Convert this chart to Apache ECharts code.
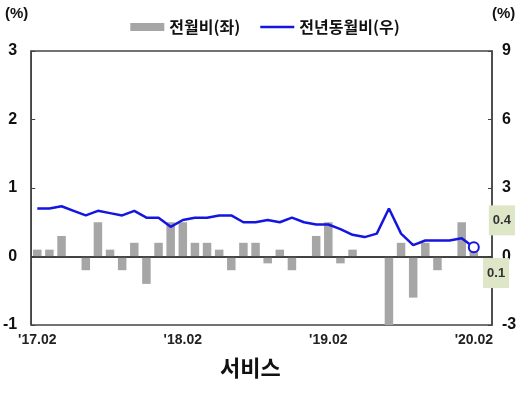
<!DOCTYPE html>
<html><head><meta charset="utf-8">
<script src="https://cdn.jsdelivr.net/npm/echarts@6/dist/echarts.min.js"></script>
<style>html,body{margin:0;padding:0;background:#fff}#c{width:530px;height:396px}</style>
</head><body><div id="c"></div>
<script>
var categories = ["'17.02","'17.03","'17.04","'17.05","'17.06","'17.07","'17.08","'17.09","'17.10","'17.11","'17.12",
"'18.01","'18.02","'18.03","'18.04","'18.05","'18.06","'18.07","'18.08","'18.09","'18.10","'18.11","'18.12",
"'19.01","'19.02","'19.03","'19.04","'19.05","'19.06","'19.07","'19.08","'19.09","'19.10","'19.11","'19.12",
"'20.01","'20.02","'20.03"];
var shownLabels = ["'17.02","'18.02","'19.02","'20.02"];
var momValues = [0.1,0.1,0.3,0.0,-0.2,0.5,0.1,-0.2,0.2,-0.4,0.2,
0.5,0.5,0.2,0.2,0.1,-0.2,0.2,0.2,-0.1,0.1,-0.2,0.0,
0.3,0.5,-0.1,0.1,0.0,0.0,-1.0,0.2,-0.6,0.2,-0.2,0.0,
0.5,0.1];
var yoyValues = [2.1,2.1,2.2,2.0,1.8,2.0,1.9,1.8,2.0,1.7,1.7,
1.3,1.6,1.7,1.7,1.8,1.8,1.5,1.5,1.6,1.5,1.7,1.5,
1.4,1.4,1.2,0.95,0.85,1.0,2.1,1.0,0.5,0.7,0.7,0.7,
0.8,0.4];
var leftTicks = [-1,0,1,2,3];
var rightTicks = [-3,0,3,6,9];

var FONT = '"Liberation Sans", Arial, "Noto Sans CJK KR", sans-serif';
var last = momValues.length - 1;
var boxLabel = {backgroundColor:'#dde6c6',padding:[9,4,8,4],color:'#333',fontFamily:FONT,fontWeight:'bold',fontSize:13,
  formatter:function(p){return p.value.toFixed(1);}};
var barData = momValues.map(function(v,i){
  if(i===last) return {value:v,label:Object.assign({show:true,position:'right',distance:5,offset:[0,20]},boxLabel)};
  return v;
});
var lineData = yoyValues.map(function(v,i){
  if(i===yoyValues.length-1) return {value:v,symbol:'circle',symbolSize:10,
    itemStyle:{color:'#fff',borderColor:'#1515e0',borderWidth:2},
    label:Object.assign({show:true,position:'right',distance:9,offset:[0,-27]},boxLabel)};
  return v;
});

var chart = echarts.init(document.getElementById('c'));
chart.setOption({
  animation:false,
  textStyle:{fontFamily:FONT},
  grid:{left:30,right:38,top:51,bottom:71,show:true,borderColor:'#444',borderWidth:1.5,backgroundColor:'transparent'},
  legend:{top:14,left:'center',itemGap:20,itemWidth:34,itemHeight:8,symbolKeepAspect:true,
    textStyle:{fontFamily:'"Noto Sans CJK KR", sans-serif',fontWeight:'bold',fontSize:16,color:'#111'},
    data:[{name:'전월비(좌)',icon:'rect'},{name:'전년동월비(우)',icon:'path://M0,0H34V2.4H0Z',itemStyle:{color:'#1515e0'}}]},
  title:{text:'서비스',left:215,top:352,textStyle:{fontFamily:'"Noto Sans CJK KR", sans-serif',fontWeight:'bold',fontSize:22,color:'#111'}},
  graphic:[
    {type:'text',left:5,top:6,style:{text:'(%)',font:'bold 15px "Liberation Sans", Arial',fill:'#111'}},
    {type:'text',left:492,top:6,style:{text:'(%)',font:'bold 15px "Liberation Sans", Arial',fill:'#111'}}
  ],
  xAxis:{type:'category',data:categories,boundaryGap:true,
    axisLine:{show:true,lineStyle:{color:'#444',width:1.5}},
    axisTick:{show:false},
    axisLabel:{interval:0,margin:8,fontSize:14,fontWeight:'bold',color:'#222',fontFamily:FONT,
      formatter:function(v){return shownLabels.indexOf(v)>=0?v:'';}},
    splitLine:{show:false}},
  yAxis:[
    {type:'value',min:leftTicks[0],max:leftTicks[leftTicks.length-1],interval:1,position:'left',
      axisLine:{show:true,lineStyle:{color:'#444',width:1.5}},
      axisTick:{show:true,inside:true,length:4,lineStyle:{color:'#444'}},
      axisLabel:{fontSize:16,fontWeight:'bold',color:'#111',margin:14,fontFamily:FONT},
      splitLine:{show:false}},
    {type:'value',min:rightTicks[0],max:rightTicks[rightTicks.length-1],interval:3,position:'right',
      axisLine:{show:true,lineStyle:{color:'#444',width:1.5}},
      axisTick:{show:true,inside:true,length:4,lineStyle:{color:'#444'}},
      axisLabel:{fontSize:16,fontWeight:'bold',color:'#111',margin:10,fontFamily:FONT},
      splitLine:{show:false}}
  ],
  series:[
    {name:'전월비(좌)',type:'bar',yAxisIndex:0,data:barData,barWidth:8.5,
      itemStyle:{color:'#a6a6a6'},
      markLine:{silent:true,symbol:'none',label:{show:false},lineStyle:{color:'#333',width:1.5,type:'solid'},data:[{yAxis:0}]}},
    {name:'전년동월비(우)',type:'line',yAxisIndex:1,data:lineData,symbol:'none',
      lineStyle:{color:'#1515e0',width:2.5},itemStyle:{color:'#1515e0'},z:5}
  ]
});
</script></body></html>
